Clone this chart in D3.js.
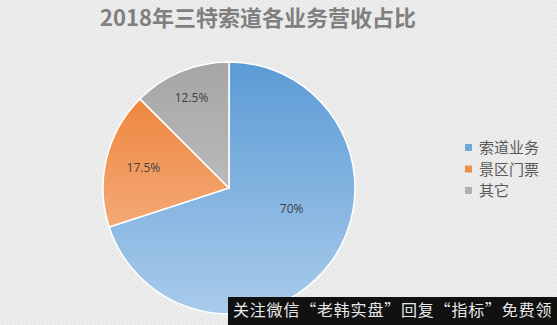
<!DOCTYPE html>
<html>
<head>
<meta charset="utf-8">
<script src="https://cdn.jsdelivr.net/npm/d3@7"></script>
<style>
  body { margin: 0; background: #ececec; }
  svg { display: block; }
</style>
</head>
<body>
<script>
// chart values
const categories = ['索道业务', '景区门票', '其它'];
const shares = [70, 17.5, 12.5];
const labels = ['70%', '17.5%', '12.5%'];
const colorsTop = ['#5b9bd5', '#ed7d31', '#a5a5a5'];
const colorsBottom = ['#a9cbeb', '#f7c09a', '#d0d0d0'];

const width = 557, height = 325;
const cx = 229, cy = 188, radius = 126;
// label placement (radius from centre, angle shift in radians) like Excel's best fit
const labelRadius = [66, 88, 98];
const labelShift = [-0.31, 0, 0];

const svg = d3.select('body').append('svg')
  .attr('width', width)
  .attr('height', height);

// faint diagonal texture like the screenshot background
const defs = svg.append('defs');
const pat = defs.append('pattern')
  .attr('id', 'bgTex')
  .attr('width', 4).attr('height', 4)
  .attr('patternUnits', 'userSpaceOnUse');
pat.append('rect').attr('width', 4).attr('height', 4).attr('fill', '#ededed');
pat.append('path').attr('d', 'M0,4 L4,0').attr('stroke', '#e3e3e3').attr('stroke-width', 1);
svg.append('rect').attr('width', width).attr('height', height).attr('fill', 'url(#bgTex)');

categories.forEach((c, i) => {
  const gr = defs.append('linearGradient')
    .attr('id', 'grad' + i)
    .attr('gradientUnits', 'userSpaceOnUse')
    .attr('x1', 0).attr('y1', -radius)
    .attr('x2', 0).attr('y2', radius);
  gr.append('stop').attr('offset', '0%').attr('stop-color', colorsTop[i]);
  gr.append('stop').attr('offset', '100%').attr('stop-color', colorsBottom[i]);
});

svg.append('text')
  .attr('x', 258).attr('y', 26)
  .attr('text-anchor', 'middle')
  .attr('font-family', '"Noto Sans CJK SC", sans-serif')
  .attr('font-weight', 'bold')
  .attr('font-size', 22)
  .attr('fill', '#7f7f7f')
  .text('2018年三特索道各业务营收占比');

const pie = d3.pie().sort(null).value(d => d);
const arcs = pie(shares);
const arc = d3.arc().innerRadius(0).outerRadius(radius);

const g = svg.append('g').attr('transform', 'translate(' + cx + ',' + cy + ')');

g.selectAll('path.slice')
  .data(arcs)
  .enter().append('path')
  .attr('class', 'slice')
  .attr('d', arc)
  .attr('fill', (d, i) => 'url(#grad' + i + ')')
  .attr('stroke', '#ffffff')
  .attr('stroke-width', 1.5);

g.selectAll('text.lbl')
  .data(arcs)
  .enter().append('text')
  .attr('class', 'lbl')
  .attr('transform', (d, i) => {
    const a = (d.startAngle + d.endAngle) / 2 + labelShift[i];
    const r = labelRadius[i];
    return 'translate(' + (Math.sin(a) * r) + ',' + (-Math.cos(a) * r) + ')';
  })
  .attr('text-anchor', 'middle')
  .attr('dy', '0.35em')
  .attr('font-family', '"Open Sans", sans-serif')
  .attr('font-size', 12)
  .attr('fill', '#404040')
  .text((d, i) => labels[i]);

const legend = svg.append('g').attr('transform', 'translate(465,148)');
const leg = legend.selectAll('g')
  .data(categories)
  .enter().append('g')
  .attr('transform', (d, i) => 'translate(0,' + i * 21.5 + ')');
leg.append('rect')
  .attr('x', 0).attr('y', -4)
  .attr('width', 7).attr('height', 7)
  .attr('fill', (d, i) => colorsTop[i])
  .attr('opacity', 0.85);
leg.append('text')
  .attr('x', 14).attr('y', 0)
  .attr('dy', '0.35em')
  .attr('font-family', '"Noto Sans CJK SC", sans-serif')
  .attr('font-size', 15)
  .attr('fill', '#595959')
  .text(d => d);

// watermark bar from the screenshot
svg.append('rect')
  .attr('x', 228).attr('y', 297)
  .attr('width', width - 228).attr('height', 28)
  .attr('fill', '#111111');
svg.append('text')
  .attr('x', 233).attr('y', 316)
  .attr('font-family', '"Noto Sans CJK SC", sans-serif')
  .attr('font-size', 16)
  .attr('letter-spacing', 0.8)
  .attr('fill', '#e8e8e8')
  .text('关注微信“老韩实盘”回复“指标”免费领');
</script>
</body>
</html>
